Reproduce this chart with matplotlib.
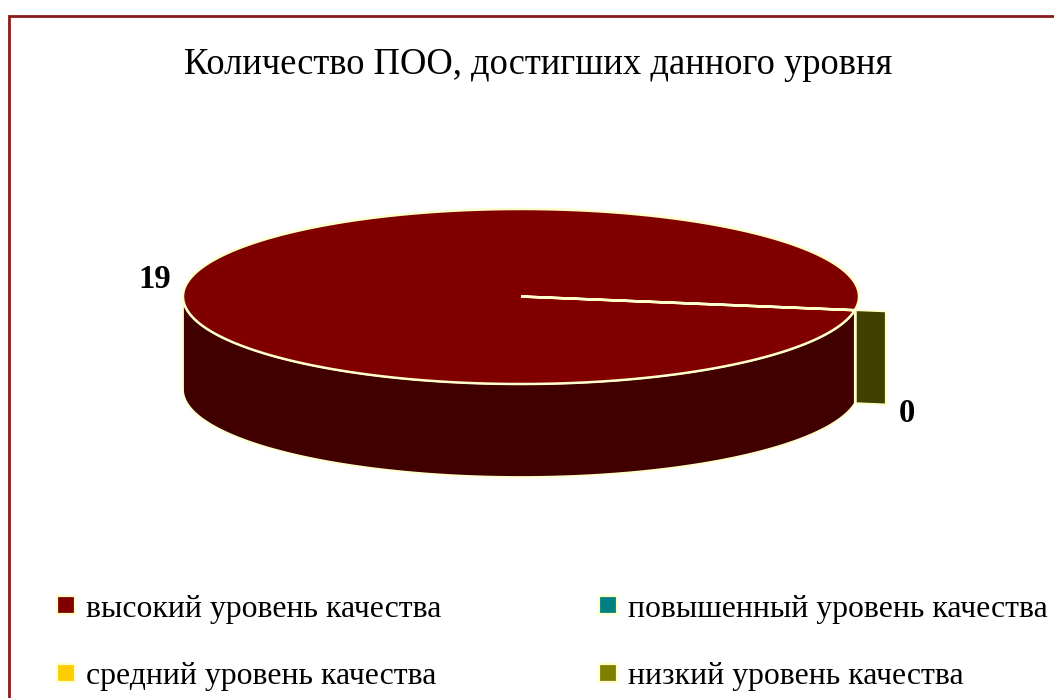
import numpy as np
import matplotlib
matplotlib.use("Agg")
import matplotlib.pyplot as plt
from matplotlib.patches import Polygon, Rectangle
from matplotlib.lines import Line2D

title = "Количество ПОО, достигших данного уровня"
categories = ["высокий уровень качества", "повышенный уровень качества",
              "средний уровень качества", "низкий уровень качества"]
values = [19, 0, 0, 0]
colors = ["#800000", "#008080", "#FFCC00", "#808000"]
label_values = [19, 0]

plt.rcParams["font.family"] = ["Liberation Serif", "DejaVu Serif"]
fig = plt.figure(figsize=(10.54, 6.98), dpi=100)
ax = fig.add_axes([0, 0, 1, 1])
ax.set_xlim(0, 1054)
ax.set_ylim(698, 0)
ax.axis("off")

EDGE = "#FFFFCC"
cx, cy, rx, ry, depth = 521, 296.5, 338, 87.5, 93
start_deg = 9.0
explode = 30

ax.add_patch(Rectangle((9, 15.5), 1100, 800, fc="white", ec="#8B1A1A", lw=2, zorder=0))


def rim(deg):
    t = np.radians(deg)
    return cx + rx * np.cos(t), cy + ry * np.sin(t)


total = sum(values)
a0 = start_deg
a1 = start_deg + 360 * values[0] / total

# visible side wall of the large slice: from its start angle to the left extreme
t = np.linspace(a0, 180, 200)
x, y = rim(t)
side = np.column_stack([np.r_[x, x[::-1]], np.r_[y, y[::-1] + depth]])
ax.add_patch(Polygon(side, closed=True, fc="#400000", ec=EDGE, lw=1.3, zorder=2))

# top face of the large slice
t = np.linspace(a0, a1, 400)
x, y = rim(t)
top = np.column_stack([np.r_[cx, x], np.r_[cy, y]])
ax.add_patch(Polygon(top, closed=True, fc=colors[0], ec=EDGE, lw=1.8, zorder=3))

# zero-sized slice: only its radial face shows, pulled outward
rx0, ry0 = rim(a1)
ux, uy = rx0 - cx, ry0 - cy
n = np.hypot(ux, uy)
ux, uy = ux / n, uy / n
fx, fy = rx0 + 1, ry0
face = [(fx, fy), (fx + explode * ux, fy + explode * uy),
        (fx + explode * ux, fy + explode * uy + depth), (fx, fy + depth)]
ax.add_patch(Polygon(face, closed=True, fc="#404000", ec=EDGE, lw=1.3, zorder=4))

ax.text(155, 279, str(label_values[0]), fontsize=23.5, fontweight="bold",
        ha="center", va="center", color="black")
ax.text(907, 414, str(label_values[1]), fontsize=23.5, fontweight="bold",
        ha="center", va="center", color="black")

ax.text(538.5, 65, title, fontsize=26.3, ha="center", va="center", color="black")

handles = [Line2D([], [], ls="", marker="s", ms=13.5, mfc=c, mec=EDGE, mew=1.6) for c in colors]
order = [0, 2, 1, 3]
leg = ax.legend([handles[i] for i in order], [categories[i] for i in order],
                ncols=2, frameon=False, fontsize=22.9,
                loc="upper left", bbox_to_anchor=(0.0475, 0.1485),
                handletextpad=0.14, handlelength=1.0, columnspacing=4.73,
                labelspacing=1.21, borderpad=0, borderaxespad=0)
fig.savefig("out.png", dpi=100)
